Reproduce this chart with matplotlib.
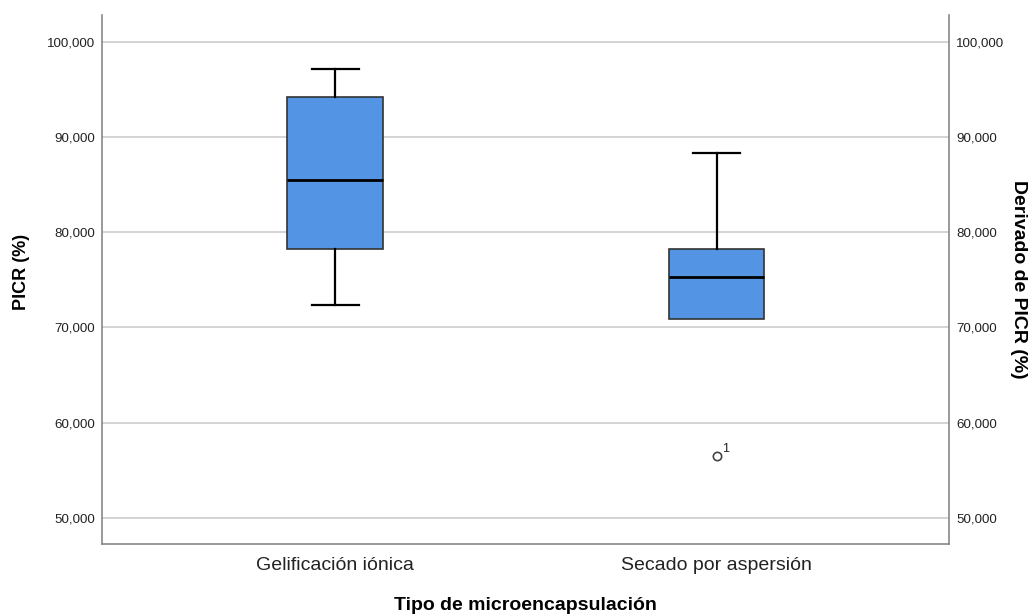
import matplotlib.pyplot as plt

plt.rcParams['font.family'] = ['Liberation Sans', 'DejaVu Sans']

# box statistics (PICR %)
groups = ["Gelificación iónica", "Secado por aspersión"]
q1 = [78.19, 70.90]
med = [85.47, 75.25]
q3 = [94.22, 78.19]
whislo = [72.34, 70.90]
whishi = [97.10, 88.34]
fliers = [[], [56.48]]
flier_ids = [[], ["1"]]
yticks = [50, 60, 70, 80, 90, 100]

stats = []
for i in range(len(groups)):
    stats.append(dict(q1=q1[i], med=med[i], q3=q3[i], whislo=whislo[i],
                      whishi=whishi[i], fliers=fliers[i], label=groups[i]))

fig = plt.figure(figsize=(10.33, 6.14), dpi=100)
ax = fig.add_axes([0.0987, 0.114, 0.82, 0.8616])

bp = ax.bxp(stats, positions=[1, 2], widths=0.25, capwidths=0.123, patch_artist=True,
            boxprops=dict(facecolor='#5494e4', edgecolor='#333333', linewidth=1.2),
            medianprops=dict(color='black', linewidth=2),
            whiskerprops=dict(color='black', linewidth=1.6),
            capprops=dict(color='black', linewidth=1.6),
            flierprops=dict(marker='o', markerfacecolor='white', markeredgecolor='#444444',
                            markersize=6, markeredgewidth=1.2),
            zorder=3)

# no cap when the whisker has zero length (SPSS style)
for i in range(len(groups)):
    if whislo[i] == q1[i]:
        bp['caps'][2 * i].set_visible(False)
    if whishi[i] == q3[i]:
        bp['caps'][2 * i + 1].set_visible(False)

for i, (vals, ids) in enumerate(zip(fliers, flier_ids)):
    for v, t in zip(vals, ids):
        ax.annotate(t, (i + 1, v), xytext=(4, 3), textcoords='offset points',
                    fontsize=9, color='#222222')

ax.set_xlim(0.389, 2.609)
ax.set_ylim(47.24, 102.8)
ax.set_yticks(yticks)
ax.set_yticklabels([f"{v},000" for v in yticks])
ax.yaxis.grid(True, color='#cccccc', linewidth=1.2, zorder=0)
ax.set_axisbelow(True)
ax.tick_params(axis='both', length=0)
ax.tick_params(axis='y', labelsize=9.6, colors='#222222', pad=5)
ax.tick_params(axis='x', labelsize=14, colors='#222222', pad=9)

for s in ['left', 'bottom', 'right']:
    ax.spines[s].set_color('#888888')
    ax.spines[s].set_linewidth(1.2)
ax.spines['top'].set_visible(False)

ax2 = ax.twinx()
ax2.set_ylim(ax.get_ylim())
ax2.set_yticks(yticks)
ax2.set_yticklabels([f"{v},000" for v in yticks])
ax2.tick_params(axis='y', length=0, labelsize=9.6, colors='#222222', pad=5)
for s in ['left', 'bottom', 'right', 'top']:
    ax2.spines[s].set_visible(False)
ax2.set_ylabel("Derivado de PICR (%)", rotation=-90, fontsize=14, fontweight='bold',
               va='center', ha='center')
ax2.yaxis.set_label_coords(1.0815, 0.5)

ax.set_ylabel("PICR (%)", fontsize=13, fontweight='bold', va='center', ha='center')
ax.yaxis.set_label_coords(-0.0945, 0.514)
ax.set_xlabel("Tipo de microencapsulación", fontsize=14, fontweight='bold', va='center')
ax.xaxis.set_label_coords(0.5, -0.1153)

fig.savefig("out.png", dpi=100)
